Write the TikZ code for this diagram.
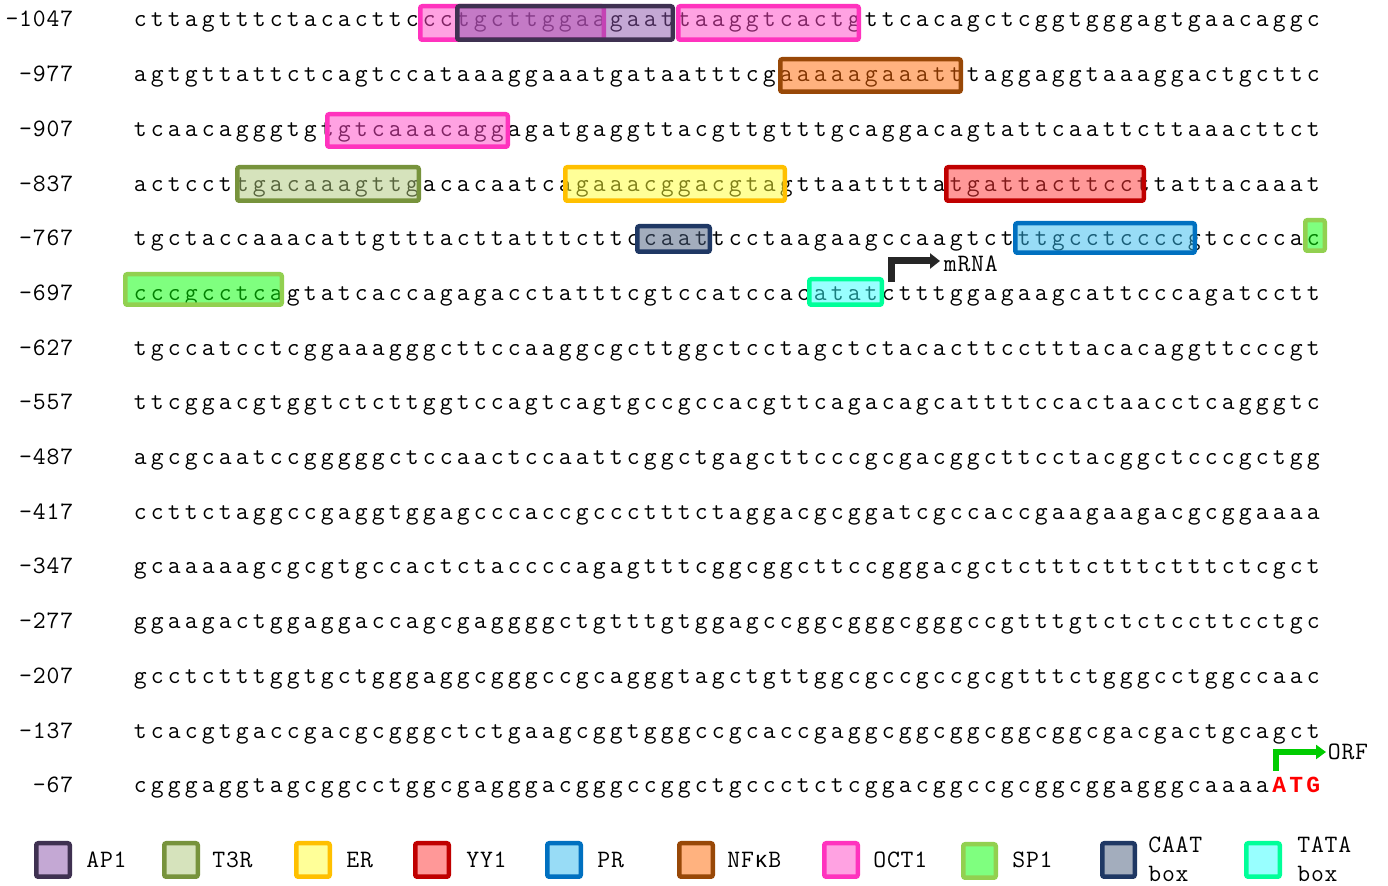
\documentclass[tikz,border=0pt]{standalone}
\usepackage{fontspec}
\usetikzlibrary{arrows.meta}
\newfontfamily\cour{Liberation Mono}
\definecolor{apF}{RGB}{139,83,171}\definecolor{apD}{RGB}{63,49,81}
\definecolor{ttF}{RGB}{175,201,123}\definecolor{ttD}{RGB}{119,147,60}
\definecolor{erF}{RGB}{255,255,51}\definecolor{erD}{RGB}{255,192,0}
\definecolor{yyF}{RGB}{255,51,51}\definecolor{yyD}{RGB}{192,0,0}
\definecolor{prF}{RGB}{51,187,239}\definecolor{prD}{RGB}{0,112,192}
\definecolor{nfF}{RGB}{255,103,1}\definecolor{nfD}{RGB}{152,72,7}
\definecolor{ocF}{RGB}{255,71,199}\definecolor{ocD}{RGB}{255,51,190}
\definecolor{spF}{RGB}{1,255,1}\definecolor{spD}{RGB}{146,208,80}
\definecolor{caF}{RGB}{73,93,125}\definecolor{caD}{RGB}{31,56,100}
\definecolor{taF}{RGB}{51,255,255}\definecolor{taD}{RGB}{0,255,153}
\definecolor{arrBlack}{RGB}{38,38,38}
\definecolor{arrGreen}{RGB}{0,204,0}
\definecolor{atgRed}{RGB}{255,0,0}
\makeatletter
\def\sq@loop#1{\ifx#1\relax\else\hbox to \sq@w{\hss#1\hss}\expandafter\sq@loop\fi}
\newcommand\spacedw[2]{\def\sq@w{#1}\sq@loop#2\relax}
\makeatother
\newcommand\spaced[1]{\spacedw{8.5pt}{#1}}
\newcommand\lbl[1]{\spacedw{6.85pt}{#1}}
\newcommand\tfbox[5]{\path[#1] ({#2+2.25},{#3+2.25}) rectangle ({#4-2.25},{#5-2.25});}
\tikzset{
  every node/.style={inner sep=0pt, font=\ttfamily\fontsize{12.5}{14}\selectfont},
  num/.style={anchor=base east},
  seqtxt/.style={anchor=base west},
  leglbl/.style={anchor=base west},
  tf/.style={line width=2.25pt, rounded corners=1pt, fill opacity=0.5},
  bAP/.style={tf, draw=apD, fill=apF},
  bTT/.style={tf, draw=ttD, fill=ttF},
  bER/.style={tf, draw=erD, fill=erF},
  bYY/.style={tf, draw=yyD, fill=yyF},
  bPR/.style={tf, draw=prD, fill=prF},
  bNF/.style={tf, draw=nfD, fill=nfF},
  bOC/.style={tf, draw=ocD, fill=ocF},
  bSP/.style={tf, draw=spD, fill=spF},
  bCA/.style={tf, draw=caD, fill=caF},
  bTA/.style={tf, draw=taD, fill=taF},
  mrnaArr/.style={draw=arrBlack, line width=3.5pt, -{Triangle[length=5pt,width=7.5pt]}, shorten >=1.5pt},
  orfArr/.style={draw=arrGreen, line width=3.2pt, -{Triangle[length=5pt,width=7pt]}, shorten >=0.5pt},
}
\begin{document}
\begin{tikzpicture}[x=0.5pt,y=-0.5pt]
\fill[white] (0,0) rectangle (1388,886);
\useasboundingbox (0,0) rectangle (1388,886);
% position numbers
\node[num] (n1)  at (74,27)    {\lbl{-1047}};
\node[num] (n2)  at (74,81.7)  {\lbl{-977}};
\node[num] (n3)  at (74,136.4) {\lbl{-907}};
\node[num] (n4)  at (74,191.1) {\lbl{-837}};
\node[num] (n5)  at (74,245.8) {\lbl{-767}};
\node[num] (n6)  at (74,300.5) {\lbl{-697}};
\node[num] (n7)  at (74,355.2) {\lbl{-627}};
\node[num] (n8)  at (74,409.9) {\lbl{-557}};
\node[num] (n9)  at (74,464.6) {\lbl{-487}};
\node[num] (n10) at (74,519.3) {\lbl{-417}};
\node[num] (n11) at (74,574)   {\lbl{-347}};
\node[num] (n12) at (74,628.7) {\lbl{-277}};
\node[num] (n13) at (74,683.4) {\lbl{-207}};
\node[num] (n14) at (74,738.1) {\lbl{-137}};
\node[num] (n15) at (74,792.8) {\lbl{-67}};
% sequence
\node[seqtxt] (l1)  at (131.5,27)    {\spaced{cttagtttctacacttccctgcttggaagaattaaggtcactgttcacagctcggtgggagtgaacaggc}};
\node[seqtxt] (l2)  at (131.5,81.7)  {\spaced{agtgttattctcagtccataaaggaaatgataatttcgaaaaagaaatttaggaggtaaaggactgcttc}};
\node[seqtxt] (l3)  at (131.5,136.4) {\spaced{tcaacagggtgtgtcaaacaggagatgaggttacgttgtttgcaggacagtattcaattcttaaacttct}};
\node[seqtxt] (l4)  at (131.5,191.1) {\spaced{actccttgacaaagttgacacaatcagaaacggacgtagttaattttatgattacttccttattacaaat}};
\node[seqtxt] (l5)  at (131.5,245.8) {\spaced{tgctaccaaacattgtttacttatttcttccaattcctaagaagccaagtctttgcctccccgtccccac}};
\node[seqtxt] (l6)  at (131.5,300.5) {\spaced{cccgcctcagtatcaccagagacctatttcgtccatccacatatctttggagaagcattcccagatcctt}};
\node[seqtxt] (l7)  at (131.5,355.2) {\spaced{tgccatcctcggaaagggcttccaaggcgcttggctcctagctctacacttcctttacacaggttcccgt}};
\node[seqtxt] (l8)  at (131.5,409.9) {\spaced{ttcggacgtggtctcttggtccagtcagtgccgccacgttcagacagcattttccactaacctcagggtc}};
\node[seqtxt] (l9)  at (131.5,464.6) {\spaced{agcgcaatccgggggctccaactccaattcggctgagcttcccgcgacggcttcctacggctcccgctgg}};
\node[seqtxt] (l10) at (131.5,519.3) {\spaced{ccttctaggccgaggtggagcccaccgccctttctaggacgcggatcgccaccgaagaagacgcggaaaa}};
\node[seqtxt] (l11) at (131.5,574)   {\spaced{gcaaaaagcgcgtgccactctaccccagagtttcggcggcttccgggacgctctttctttctttctcgct}};
\node[seqtxt] (l12) at (131.5,628.7) {\spaced{ggaagactggaggaccagcgaggggctgtttgtggagccggcgggcgggccgtttgtctctccttcctgc}};
\node[seqtxt] (l13) at (131.5,683.4) {\spaced{gcctctttggtgctgggaggcgggccgcagggtagctgttggcgccgccgcgtttctgggcctggccaac}};
\node[seqtxt] (l14) at (131.5,738.1) {\spaced{tcacgtgaccgacgcgggctctgaagcggtgggccgcaccgaggcggcggcggcggcgacgactgcagct}};
\node[seqtxt] (l15) at (131.5,792.8) {\spaced{cgggaggtagcggcctggcgagggacgggccggctgccctctcggacggccgcggcggagggcaaaa}\textcolor{atgRed}{\cour\bfseries\fontsize{11.5}{13}\selectfont\spaced{ATG}}};
% binding-site boxes
\tfbox{bOC}{418}{4}{606}{42}
\tfbox{bOC}{676}{4}{861}{42}
\tfbox{bAP}{455}{4}{675}{42}
\tfbox{bNF}{778}{57}{963}{94}
\tfbox{bOC}{325}{112}{510}{149}
\tfbox{bTT}{235}{165}{421}{203}
\tfbox{bER}{563}{165}{787}{203}
\tfbox{bYY}{944}{165}{1146}{203}
\tfbox{bCA}{635}{224}{712}{254}
\tfbox{bPR}{1013}{221}{1197}{255}
\tfbox{bSP}{1303}{218}{1327}{253}
\tfbox{bSP}{123}{272}{284}{307}
\tfbox{bTA}{807}{277}{884}{307}
% transcription / ORF start arrows
\coordinate (mrnaStart) at (891,282);
\node[anchor=west] (mrna) at (943,264) {\lbl{mRNA}};
\draw[mrnaArr] (mrnaStart) |- ([yshift=1.5pt]mrna.west);
\coordinate (orfStart) at (1276,771);
\node[anchor=west] (orf) at (1327,752) {\lbl{ORF}};
\draw[orfArr] (orfStart) |- (orf.west);
% legend
\tfbox{bAP}{34}{841}{72}{879}
\tfbox{bTT}{162}{841}{200}{879}
\tfbox{bER}{294}{841}{332}{879}
\tfbox{bYY}{413}{841}{451}{879}
\tfbox{bPR}{545}{841}{583}{879}
\tfbox{bNF}{677}{841}{715}{879}
\tfbox{bOC}{822}{841}{860}{879}
\tfbox{bSP}{961}{842}{998}{880}
\tfbox{bCA}{1100}{841}{1137}{879}
\tfbox{bTA}{1244}{841}{1282}{879}
\node[leglbl] (gAP) at (85.5,868) {\lbl{AP1}};
\node[leglbl] (gTT) at (211.5,868) {\lbl{T3R}};
\node[leglbl] (gER) at (345.5,868) {\lbl{ER}};
\node[leglbl] (gYY) at (465.5,868) {\lbl{YY1}};
\node[leglbl] (gPR) at (596.5,868) {\lbl{PR}};
\node[leglbl] (gNF) at (726.5,868) {\lbl{NF}\hbox to 6.85pt{\hss{\cour\fontsize{11.5}{13}\selectfont κ}\hss}\lbl{B}};
\node[leglbl] (gOC) at (872.5,868) {\lbl{OCT1}};
\node[leglbl] (gSP) at (1011.5,868) {\lbl{SP1}};
\node[leglbl] (gCA) at (1147.5,853) {\lbl{CAAT}};
\node[leglbl] (gCAb) at (1147.5,882) {\lbl{box}};
\node[leglbl] (gTA) at (1296.5,853) {\lbl{TATA}};
\node[leglbl] (gTAb) at (1296.5,882) {\lbl{box}};
\end{tikzpicture}
\end{document}
